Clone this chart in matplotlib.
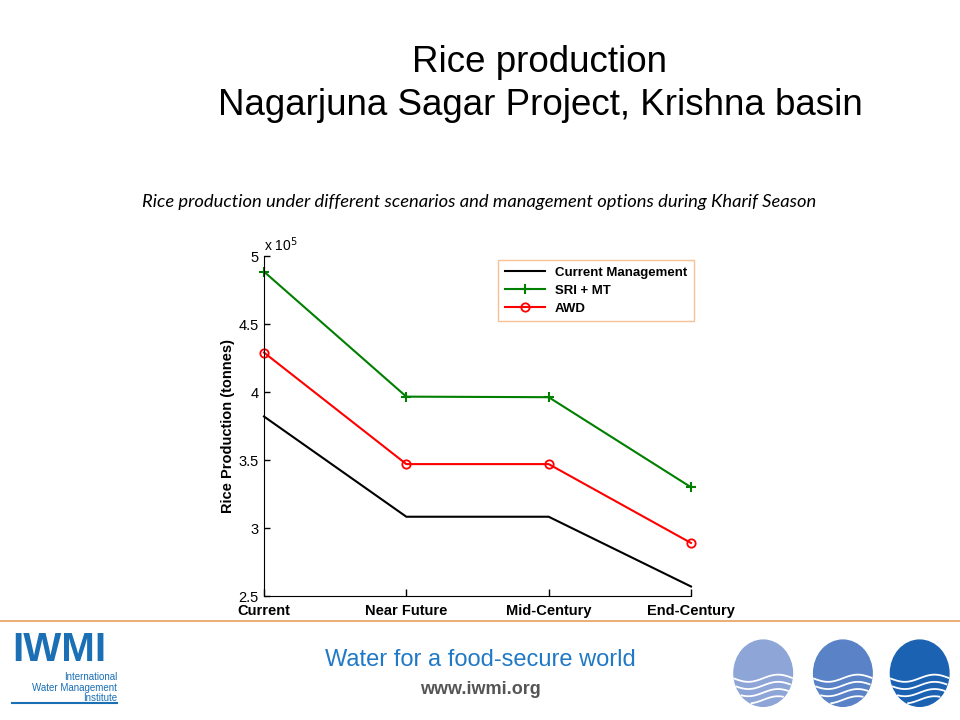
import numpy as np
import matplotlib
matplotlib.use('Agg')
import matplotlib.pyplot as plt
from matplotlib.patches import Ellipse

# data
scenarios = ['Current', 'Near Future', 'Mid-Century', 'End-Century']
current_mgmt = [3.82, 3.083, 3.083, 2.57]
sri_mt = [4.885, 3.966, 3.962, 3.30]
awd = [4.29, 3.47, 3.47, 2.89]
y_ticks = [2.5, 3, 3.5, 4, 4.5, 5]
y_tick_labels = ['2.5', '3', '3.5', '4', '4.5', '5']

fig = plt.figure(figsize=(9.6, 7.2), dpi=100)
fig.patch.set_facecolor('white')

# slide titles
fig.text(0.5625, 0.913, 'Rice production', ha='center', va='center',
         fontsize=26.5, family='Liberation Sans')
fig.text(0.5625, 0.853, 'Nagarjuna Sagar Project, Krishna basin', ha='center',
         va='center', fontsize=26.5, family='Liberation Sans')
fig.text(0.4995, 0.72, 'Rice production under different scenarios and management options during Kharif Season',
         ha='center', va='center', fontsize=13.2, style='italic', family='Lato')

# chart
ax = fig.add_axes([0.275, 0.1722, 0.4448, 0.4722])
x = np.arange(len(scenarios))
ax.plot(x, current_mgmt, color='black', linewidth=1.5, label='Current Management',
        clip_on=False)
ax.plot(x, sri_mt, color='#007f00', linewidth=1.5, marker='+', markersize=7,
        markeredgewidth=1.5, label='SRI + MT', clip_on=False)
ax.plot(x, awd, color='#ff0000', linewidth=1.5, marker='o', markersize=6,
        markerfacecolor='none', markeredgewidth=1.3, label='AWD', clip_on=False)

ax.set_xlim(0, 3)
ax.set_ylim(2.5, 5)
ax.set_xticks(x)
ax.set_xticklabels(scenarios, fontsize=10.5, fontweight='bold', family='Liberation Sans')
ax.set_yticks(y_ticks)
ax.set_yticklabels(y_tick_labels, fontsize=10.5, family='Liberation Sans')
ax.tick_params(axis='x', direction='in', length=5, pad=6, width=1)
ax.tick_params(axis='y', direction='in', length=4, pad=4, width=1)
ax.spines['top'].set_visible(False)
ax.spines['right'].set_visible(False)
ax.set_ylabel('Rice Production (tonnes)', fontsize=10.5, fontweight='bold',
              family='Liberation Sans', labelpad=2)
ax.text(0.0, 1.005, r'x 10$^5$', transform=ax.transAxes, fontsize=10,
        family='Liberation Sans', ha='left', va='bottom')

leg = ax.legend(loc='upper right', bbox_to_anchor=(1.007, 0.988), frameon=True,
                fancybox=False, borderaxespad=0,
                prop={'family': 'Liberation Sans', 'weight': 'bold', 'size': 9.5},
                handlelength=3.0, borderpad=0.5, labelspacing=0.42)
leg.get_frame().set_edgecolor('#f5b27a')
leg.get_frame().set_linewidth(1.0)

# footer line
fig.add_artist(plt.Line2D([0.0, 1.0], [0.137, 0.137], transform=fig.transFigure,
                          color='#e8a060', linewidth=1.2))

fig.text(0.5, 0.084, 'Water for a food-secure world', ha='center', va='center',
         fontsize=17, color='#2079c7', family='Liberation Sans')
fig.text(0.5, 0.042, 'www.iwmi.org', ha='center', va='center', fontsize=13,
         fontweight='bold', color='#555555', family='Liberation Sans')

# IWMI logo text
fig.text(0.0125, 0.097, 'IWMI', ha='left', va='center', fontsize=29, fontweight='bold',
         color='#1a6fb5', family='Liberation Sans')
fig.text(0.122, 0.045, 'International\nWater Management\nInstitute', ha='right', va='center',
         fontsize=7, color='#1a6fb5', family='Liberation Sans', linespacing=1.05)
fig.add_artist(plt.Line2D([0.012, 0.122], [0.023, 0.023], transform=fig.transFigure,
                          color='#1a6fb5', linewidth=1.5))

# round logos
for cx, col in [(0.795, '#8ea5d8'), (0.878, '#5a82c6'), (0.958, '#1c62b2')]:
    e = Ellipse((cx, 0.065), 0.061, 0.092, transform=fig.transFigure, color=col)
    fig.add_artist(e)
    for k in range(4):
        xs = np.linspace(cx - 0.031, cx + 0.031, 60)
        ys = 0.058 - k * 0.010 + 0.005 * np.sin((xs - cx) / 0.031 * np.pi)
        inside = ((xs - cx) / 0.0305) ** 2 + ((ys - 0.065) / 0.046) ** 2 < 1
        fig.add_artist(plt.Line2D(xs[inside], ys[inside], transform=fig.transFigure,
                                  color='white', linewidth=1.3))

plt.savefig('out.png', dpi=100)
